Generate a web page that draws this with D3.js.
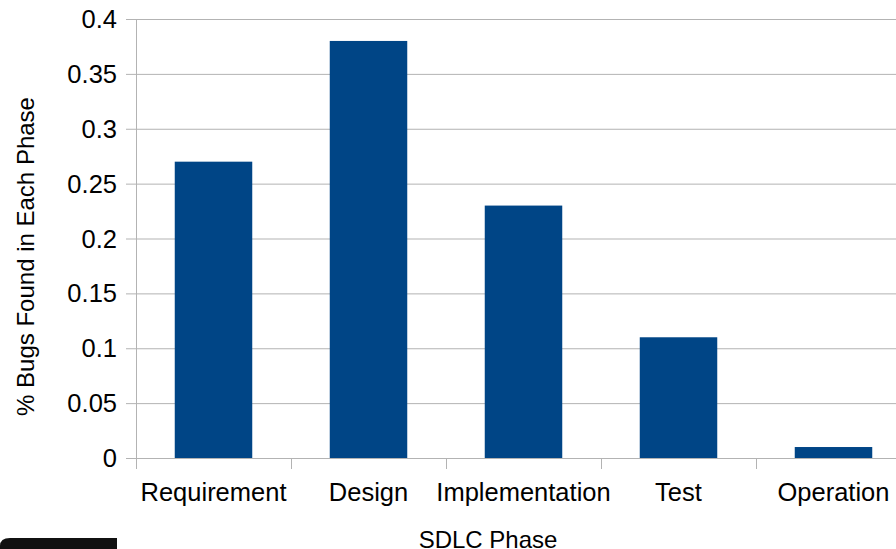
<!DOCTYPE html>
<html>
<head>
<meta charset="utf-8">
<script src="https://cdn.jsdelivr.net/npm/d3@7"></script>
<style>
  html, body { margin: 0; padding: 0; background: #fff; }
  svg { display: block; font-family: "Liberation Sans", Arial, sans-serif; }
</style>
</head>
<body>
<svg id="chart" width="896" height="549"></svg>
<script>
// Share of bugs found in each SDLC phase
const phases = ["Requirement", "Design", "Implementation", "Test", "Operation"];
const bugShare = [0.27, 0.38, 0.23, 0.11, 0.01];
const yTicks = [0, 0.05, 0.1, 0.15, 0.2, 0.25, 0.3, 0.35, 0.4];

const svg = d3.select("#chart");
const plotLeft = 136, plotTop = 19, plotBottom = 458;
const step = 155;
const plotRight = plotLeft + step * phases.length;

const x = d3.scaleBand().domain(phases).range([plotLeft, plotRight]).paddingInner(0.5).paddingOuter(0.25);
const y = d3.scaleLinear().domain([0, 0.4]).range([plotBottom, plotTop]);

const grid = "#b3b3b3";

// horizontal gridlines with short ticks left of the axis
svg.append("g").selectAll("line").data(yTicks).join("line")
  .attr("x1", plotLeft - 10).attr("x2", plotRight)
  .attr("y1", d => y(d) + 0.5).attr("y2", d => y(d) + 0.5)
  .attr("stroke", grid).attr("stroke-width", 1);

// y axis line
svg.append("line").attr("x1", plotLeft + 0.5).attr("x2", plotLeft + 0.5)
  .attr("y1", plotTop).attr("y2", plotBottom + 11)
  .attr("stroke", grid);

// category boundary ticks below the baseline
svg.append("g").selectAll("line").data(d3.range(phases.length + 1)).join("line")
  .attr("x1", i => plotLeft + i * step + 0.5).attr("x2", i => plotLeft + i * step + 0.5)
  .attr("y1", plotBottom).attr("y2", plotBottom + 11)
  .attr("stroke", grid);

// bars
svg.append("g").selectAll("rect").data(phases).join("rect")
  .attr("x", d => x(d)).attr("width", x.bandwidth())
  .attr("y", (d, i) => y(bugShare[i]))
  .attr("height", (d, i) => y(0) - y(bugShare[i]))
  .attr("fill", "#004586");

// y tick labels
svg.append("g").selectAll("text").data(yTicks).join("text")
  .attr("x", 117).attr("y", d => y(d) + 9)
  .attr("text-anchor", "end").attr("font-size", 25.5).attr("fill", "#000")
  .text(d => d3.format("~g")(d));

// x category labels
svg.append("g").selectAll("text").data(phases).join("text")
  .attr("x", d => x(d) + x.bandwidth() / 2).attr("y", 501)
  .attr("text-anchor", "middle").attr("font-size", 25.5).attr("fill", "#000")
  .text(d => d);

// axis titles
svg.append("text").attr("x", 488).attr("y", 548)
  .attr("text-anchor", "middle").attr("font-size", 24).text("SDLC Phase");
svg.append("text").attr("transform", "translate(34,256.5) rotate(-90)")
  .attr("text-anchor", "middle").attr("font-size", 24).text("% Bugs Found in Each Phase");

// dark tab in the lower-left corner
svg.append("path")
  .attr("d", "M0,549 L0,546 Q0,538 10,538 L117,538 L117,549 Z")
  .attr("fill", "#111");
</script>
</body>
</html>
